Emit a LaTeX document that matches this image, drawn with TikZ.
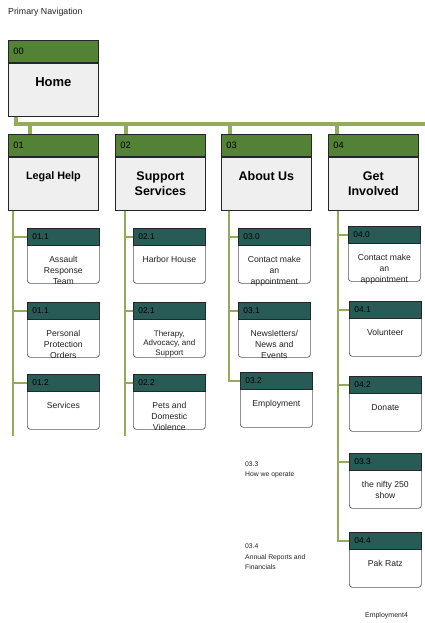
\documentclass[tikz,border=0pt]{standalone}
\usepackage{fontspec}
\setmainfont{Liberation Sans}
\usetikzlibrary{positioning}
\definecolor{navGreen}{HTML}{538135}
\definecolor{navTeal}{HTML}{285B56}
\definecolor{navLine}{HTML}{93AC5C}
\definecolor{navGray}{HTML}{EFEFEF}
\definecolor{navInk}{HTML}{222222}

\begin{document}
\begin{tikzpicture}[x=1pt, y=-1pt,
    sechead/.style={rectangle, draw=black!85, line width=0.8pt, fill=navGreen, text width=80pt,
                    inner xsep=5pt, inner ysep=0pt, minimum height=22pt, align=left, text=black,
                    anchor=north west, font=\fontsize{9.3}{10}\selectfont},
    secbody/.style={rectangle, draw=black!85, line width=0.8pt, fill=navGray, minimum width=90pt,
                    minimum height=53pt, inner sep=0pt, anchor=north west},
    sectext/.style={font=\bfseries\fontsize{12.5}{15.2}\selectfont, align=center, inner sep=0pt},
    sectextsm/.style={sectext, font=\bfseries\fontsize{10.8}{13}\selectfont},
    subbody/.style={rectangle, rounded corners=3pt, draw=black!65, line width=0.7pt, fill=white,
                    minimum width=72pt, minimum height=55pt, inner sep=0pt, anchor=north west},
    subhead/.style={rectangle, draw=black!85, line width=0.7pt, fill=navTeal, text width=62pt,
                    inner xsep=5pt, inner ysep=0pt, minimum height=17pt, align=left, text=black,
                    anchor=north west, font=\fontsize{8.4}{9}\selectfont},
    subtext/.style={font=\fontsize{8.6}{10.7}\selectfont, align=center, inner sep=0pt, text=navInk},
    subtextsm/.style={subtext, font=\fontsize{8}{9.5}\selectfont},
    note/.style={font=\fontsize{6.8}{10.2}\selectfont, align=left, inner sep=0pt, text=navInk},
    trunk/.style={draw=navLine, line width=3.5pt},
    branch/.style={draw=navLine, line width=2.5pt}
  ]
  \useasboundingbox (0,0) rectangle (425,623);
  \node[note, font=\fontsize{8.8}{10}\selectfont, anchor=west] (primnav) at (8,12) {Primary Navigation};

  % home and the four sections
  \node[sechead] (homehead) at (8,40) {00};
  \node[secbody] (homebody) at (homehead.south west) {};
  \node[sectext, font=\bfseries\fontsize{13}{15}\selectfont, below=15pt of homebody.north] (hometext) {Home};

  \foreach \nm/\x/\num/\st/\txt in {legal/8/01/sectextsm/{Legal Help}, support/115/02/sectext/{Support\\Services},
                                    about/221/03/sectext/{About Us}, involved/328/04/sectext/{Get\\Involved}}{
    \node[sechead] (\nm head) at (\x,134) {\num};
    \node[secbody] (\nm body) at (\nm head.south west) {};
    \node[\st, below=14.5pt of \nm body.north] (\nm text) {\txt};
  }

  % sub pages
  \foreach \nm/\x/\y/\num/\st/\txt in {
      c011/27/228/01.1/subtext/{Assault\\Response\\Team},
      c012/27/302/01.1/subtext/{Personal\\Protection\\Orders},
      c013/27/374/01.2/subtext/{Services},
      c021/133/228/02.1/subtext/{Harbor House},
      c022/133/302/02.1/subtextsm/{Therapy,\\Advocacy, and\\Support},
      c023/133/374/02.2/subtext/{Pets and\\Domestic\\Violence},
      c030/238/228/03.0/subtext/{Contact make\\an\\appointment},
      c031/238/302/03.1/subtext/{Newsletters/\\News and\\Events},
      c032/240/372/03.2/subtext/{Employment},
      c040/348/226/04.0/subtext/{Contact make\\an\\appointment},
      c041/349/301/04.1/subtext/{Volunteer},
      c042/349/376/04.2/subtext/{Donate},
      c043/349/453/03.3/subtext/{the nifty 250\\show},
      c044/349/532/04.4/subtext/{Pak Ratz}}{
    \node[subbody] (\nm) at (\x,\y) {};
    \node[subhead] (\nm-head) at (\nm.north west) {\num};
    \node[\st, below=10.5pt of \nm-head.south] (\nm-text) {\txt};
  }

  % trunk
  \coordinate (navend) at (425,124);
  \draw[trunk] ([xshift=8pt]homebody.south west) |- (navend);
  \foreach \nm/\dx in {legal/22, support/11, about/9, involved/9}{
    \coordinate (\nm top) at ([xshift=\dx pt]\nm head.north west);
    \draw[trunk] (\nm top) -- (\nm top |- navend);
  }

  % branches
  \foreach \nm/\dx in {legal/5, support/10, about/8, involved/10}
    \coordinate (\nm spine) at ([xshift=\dx pt]\nm body.south west);
  \draw[branch] (legalspine) -- (legalspine |- 0,436);
  \draw[branch] (supportspine) -- (supportspine |- 0,436);
  \draw[branch] (aboutspine) |- (c032-head.west);
  \draw[branch] (involvedspine) |- (c044-head.west);
  \foreach \sp/\nm in {legal/c011, legal/c012, legal/c013, support/c021, support/c022, support/c023,
                       about/c030, about/c031, involved/c040, involved/c041, involved/c042, involved/c043}
    \draw[branch] (\nm-head.west -| \sp spine) -- (\nm-head.west);

  % loose notes
  \node[note, anchor=north west] (howop) at (245,461.5) {03.3\\How we operate};
  \node[note, anchor=north west, font=\fontsize{6.8}{10.6}\selectfont] (annual) at (245,543.5) {03.4\\Annual Reports and\\Financials};
  \node[note, font=\fontsize{7}{9}\selectfont] (emp4) at (386.5,616) {Employment4};
\end{tikzpicture}
\end{document}
